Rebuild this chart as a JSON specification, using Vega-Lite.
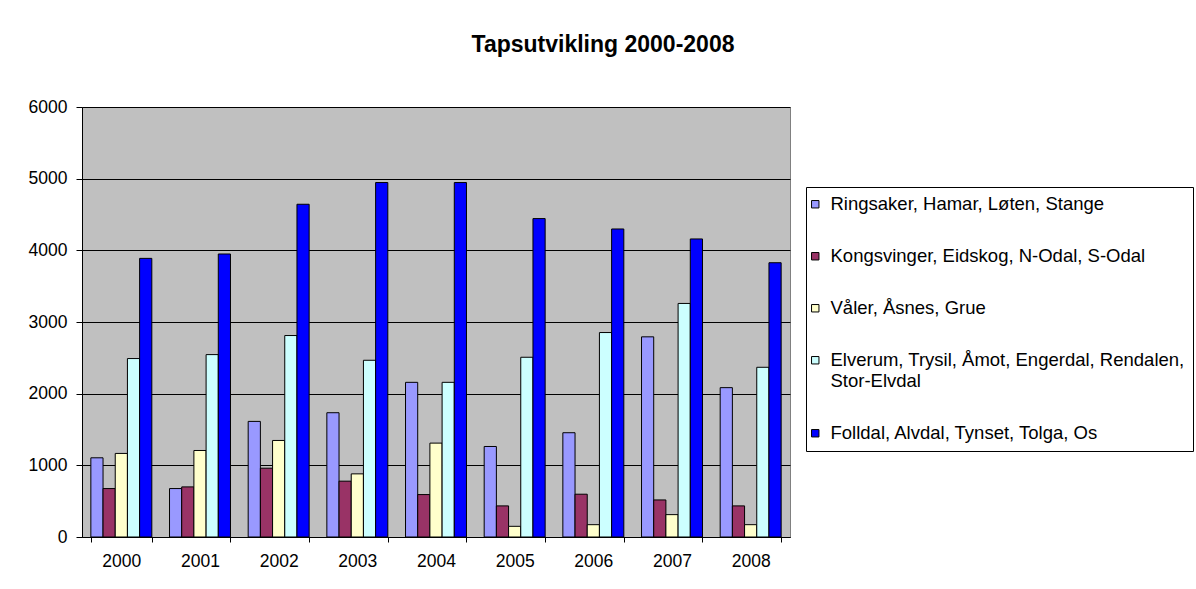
{
  "$schema": "https://vega.github.io/schema/vega-lite/v6.json",
  "width": 708,
  "height": 430,
  "autosize": {"type": "none"},
  "padding": {"left": 82, "top": 107, "right": 406, "bottom": 52},
  "background": "white",
  "title": {
    "text": "Tapsutvikling 2000-2008",
    "font": "Liberation Sans",
    "fontSize": 23,
    "fontWeight": "bold",
    "color": "black",
    "anchor": "middle",
    "frame": "group",
    "dx": 167,
    "offset": 41
  },
  "data": {
    "values": [
      {"year": "2000", "region": "Ringsaker, Hamar, Løten, Stange", "value": 1105},
      {"year": "2000", "region": "Kongsvinger, Eidskog, N-Odal, S-Odal", "value": 676},
      {"year": "2000", "region": "Våler, Åsnes, Grue", "value": 1166},
      {"year": "2000", "region": "Elverum, Trysil, Åmot, Engerdal, Rendalen, Stor-Elvdal", "value": 2490},
      {"year": "2000", "region": "Folldal, Alvdal, Tynset, Tolga, Os", "value": 3888},
      {"year": "2001", "region": "Ringsaker, Hamar, Løten, Stange", "value": 676},
      {"year": "2001", "region": "Kongsvinger, Eidskog, N-Odal, S-Odal", "value": 699},
      {"year": "2001", "region": "Våler, Åsnes, Grue", "value": 1207},
      {"year": "2001", "region": "Elverum, Trysil, Åmot, Engerdal, Rendalen, Stor-Elvdal", "value": 2545},
      {"year": "2001", "region": "Folldal, Alvdal, Tynset, Tolga, Os", "value": 3949},
      {"year": "2002", "region": "Ringsaker, Hamar, Løten, Stange", "value": 1613},
      {"year": "2002", "region": "Kongsvinger, Eidskog, N-Odal, S-Odal", "value": 960},
      {"year": "2002", "region": "Våler, Åsnes, Grue", "value": 1347},
      {"year": "2002", "region": "Elverum, Trysil, Åmot, Engerdal, Rendalen, Stor-Elvdal", "value": 2811},
      {"year": "2002", "region": "Folldal, Alvdal, Tynset, Tolga, Os", "value": 4643},
      {"year": "2003", "region": "Ringsaker, Hamar, Løten, Stange", "value": 1734},
      {"year": "2003", "region": "Kongsvinger, Eidskog, N-Odal, S-Odal", "value": 779},
      {"year": "2003", "region": "Våler, Åsnes, Grue", "value": 881},
      {"year": "2003", "region": "Elverum, Trysil, Åmot, Engerdal, Rendalen, Stor-Elvdal", "value": 2466},
      {"year": "2003", "region": "Folldal, Alvdal, Tynset, Tolga, Os", "value": 4946},
      {"year": "2004", "region": "Ringsaker, Hamar, Løten, Stange", "value": 2158},
      {"year": "2004", "region": "Kongsvinger, Eidskog, N-Odal, S-Odal", "value": 592},
      {"year": "2004", "region": "Våler, Åsnes, Grue", "value": 1310},
      {"year": "2004", "region": "Elverum, Trysil, Åmot, Engerdal, Rendalen, Stor-Elvdal", "value": 2158},
      {"year": "2004", "region": "Folldal, Alvdal, Tynset, Tolga, Os", "value": 4946},
      {"year": "2005", "region": "Ringsaker, Hamar, Løten, Stange", "value": 1263},
      {"year": "2005", "region": "Kongsvinger, Eidskog, N-Odal, S-Odal", "value": 434},
      {"year": "2005", "region": "Våler, Åsnes, Grue", "value": 149},
      {"year": "2005", "region": "Elverum, Trysil, Åmot, Engerdal, Rendalen, Stor-Elvdal", "value": 2508},
      {"year": "2005", "region": "Folldal, Alvdal, Tynset, Tolga, Os", "value": 4443},
      {"year": "2006", "region": "Ringsaker, Hamar, Løten, Stange", "value": 1455},
      {"year": "2006", "region": "Kongsvinger, Eidskog, N-Odal, S-Odal", "value": 597},
      {"year": "2006", "region": "Våler, Åsnes, Grue", "value": 172},
      {"year": "2006", "region": "Elverum, Trysil, Åmot, Engerdal, Rendalen, Stor-Elvdal", "value": 2853},
      {"year": "2006", "region": "Folldal, Alvdal, Tynset, Tolga, Os", "value": 4298},
      {"year": "2007", "region": "Ringsaker, Hamar, Løten, Stange", "value": 2793},
      {"year": "2007", "region": "Kongsvinger, Eidskog, N-Odal, S-Odal", "value": 517},
      {"year": "2007", "region": "Våler, Åsnes, Grue", "value": 312},
      {"year": "2007", "region": "Elverum, Trysil, Åmot, Engerdal, Rendalen, Stor-Elvdal", "value": 3259},
      {"year": "2007", "region": "Folldal, Alvdal, Tynset, Tolga, Os", "value": 4159},
      {"year": "2008", "region": "Ringsaker, Hamar, Løten, Stange", "value": 2084},
      {"year": "2008", "region": "Kongsvinger, Eidskog, N-Odal, S-Odal", "value": 434},
      {"year": "2008", "region": "Våler, Åsnes, Grue", "value": 172},
      {"year": "2008", "region": "Elverum, Trysil, Åmot, Engerdal, Rendalen, Stor-Elvdal", "value": 2368},
      {"year": "2008", "region": "Folldal, Alvdal, Tynset, Tolga, Os", "value": 3827}
    ]
  },
  "mark": {"type": "bar", "stroke": "black", "strokeWidth": 1},
  "encoding": {
    "x": {
      "field": "year",
      "type": "nominal",
      "scale": {"paddingInner": 0.225, "paddingOuter": 0.1125},
      "axis": {
        "title": null,
        "labelAngle": 0,
        "labelFont": "Liberation Sans",
        "labelFontSize": 17.5,
        "labelColor": "black",
        "labelPadding": 10,
        "domainColor": "black",
        "tickColor": "black",
        "tickSize": 5,
        "tickBand": "extent"
      }
    },
    "xOffset": {
      "field": "region",
      "type": "nominal",
      "sort": [
        "Ringsaker, Hamar, Løten, Stange",
        "Kongsvinger, Eidskog, N-Odal, S-Odal",
        "Våler, Åsnes, Grue",
        "Elverum, Trysil, Åmot, Engerdal, Rendalen, Stor-Elvdal",
        "Folldal, Alvdal, Tynset, Tolga, Os"
      ],
      "scale": {"paddingInner": 0, "paddingOuter": 0}
    },
    "y": {
      "field": "value",
      "type": "quantitative",
      "scale": {"domain": [0, 6000], "nice": false},
      "axis": {
        "title": null,
        "values": [0, 1000, 2000, 3000, 4000, 5000, 6000],
        "format": "d",
        "labelFont": "Liberation Sans",
        "labelFontSize": 17.5,
        "labelColor": "black",
        "labelPadding": 9,
        "domainColor": "black",
        "tickColor": "black",
        "tickSize": 6,
        "grid": true,
        "gridColor": "black",
        "gridWidth": 1
      }
    },
    "color": {
      "field": "region",
      "type": "nominal",
      "scale": {
        "domain": [
          "Ringsaker, Hamar, Løten, Stange",
          "Kongsvinger, Eidskog, N-Odal, S-Odal",
          "Våler, Åsnes, Grue",
          "Elverum, Trysil, Åmot, Engerdal, Rendalen, Stor-Elvdal",
          "Folldal, Alvdal, Tynset, Tolga, Os"
        ],
        "range": ["#9999FF", "#993366", "#FFFFCC", "#CCFFFF", "#0000FF"]
      },
      "legend": {
        "title": null,
        "orient": "none",
        "legendX": 724,
        "legendY": 80,
        "padding": 8,
        "strokeColor": "black",
        "fillColor": "white",
        "symbolType": "square",
        "symbolSize": 55,
        "symbolStrokeColor": "black",
        "symbolStrokeWidth": 1,
        "symbolOpacity": 1,
        "symbolOffset": -8,
        "labelFont": "Liberation Sans",
        "labelFontSize": 18.5,
        "labelColor": "black",
        "labelLimit": 500,
        "labelOffset": 6,
        "rowPadding": 33,
        "labelExpr": "datum.label == 'Elverum, Trysil, Åmot, Engerdal, Rendalen, Stor-Elvdal' ? ['Elverum, Trysil, Åmot, Engerdal, Rendalen,', 'Stor-Elvdal'] : datum.label"
      }
    }
  },
  "config": {
    "view": {"fill": "#C0C0C0", "stroke": "#808080", "strokeWidth": 1}
  }
}
